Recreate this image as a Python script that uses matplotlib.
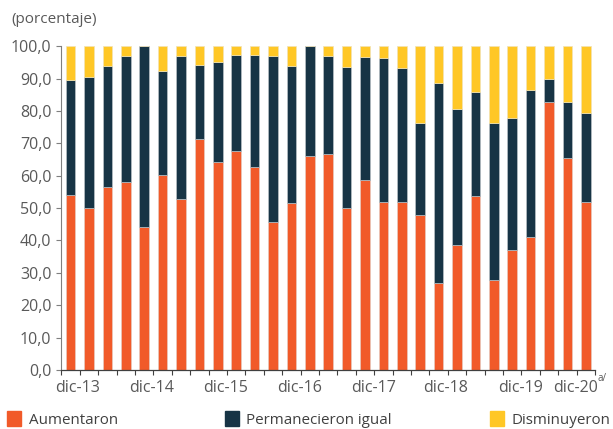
import matplotlib
matplotlib.use("Agg")
import matplotlib.pyplot as plt
from matplotlib.patches import Rectangle
import numpy as np

# quarterly periods, dic-13 .. dic-20
periods = ["dic-13", "mar-14", "jun-14", "sep-14", "dic-14", "mar-15", "jun-15", "sep-15",
           "dic-15", "mar-16", "jun-16", "sep-16", "dic-16", "mar-17", "jun-17", "sep-17",
           "dic-17", "mar-18", "jun-18", "sep-18", "dic-18", "mar-19", "jun-19", "sep-19",
           "dic-19", "mar-20", "jun-20", "sep-20", "dic-20"]

aumentaron = [54.1, 50.0, 56.5, 57.9, 44.1, 60.3, 52.9, 71.4, 64.3, 67.7, 62.8, 45.6, 51.7, 66.0,
              66.6, 50.1, 58.8, 52.0, 52.0, 47.8, 26.8, 38.5, 53.8, 27.8, 36.9, 41.0, 82.7, 65.5, 52.0]
permanecieron = [35.3, 40.5, 37.4, 38.9, 55.9, 31.9, 43.9, 22.9, 30.8, 29.5, 34.4, 51.2, 42.2, 34.0,
                 30.3, 43.5, 37.8, 44.2, 41.2, 28.5, 61.9, 42.2, 31.9, 48.5, 40.8, 45.4, 7.1, 17.2, 27.3]
disminuyeron = [10.6, 9.5, 6.1, 3.2, 0.0, 7.8, 3.2, 5.7, 4.9, 2.8, 2.8, 3.2, 6.1, 0.0,
                3.1, 6.4, 3.4, 3.8, 6.8, 23.7, 11.3, 19.3, 14.3, 23.7, 22.3, 13.6, 10.2, 17.3, 20.7]

series_names = ["Aumentaron", "Permanecieron igual", "Disminuyeron"]
colors = ["#F15A29", "#173445", "#FFC726"]

label_pos = [0.4, 4.4, 8.4, 12.45, 16.45, 20.4, 24.45, 27.45]
label_txt = ["dic-13", "dic-14", "dic-15", "dic-16", "dic-17", "dic-18", "dic-19", "dic-20"]

plt.rcParams['font.family'] = ['Open Sans', 'DejaVu Sans']
gray = "#595959"

fig = plt.figure(figsize=(6.13, 4.29), dpi=100)
ax = fig.add_axes([0.0987, 0.1375, 0.872, 0.755])

x = np.arange(len(periods))
a = np.array(aumentaron)
p = np.array(permanecieron)
d = np.array(disminuyeron)
bw = 0.52
ax.bar(x, a, bw, color=colors[0], edgecolor="#e6c9bf", linewidth=0.5)
ax.bar(x, p, bw, bottom=a, color=colors[1], edgecolor="#b8c0c6", linewidth=0.5)
ax.bar(x, d, bw, bottom=a + p, color=colors[2], edgecolor="#f2e3b5", linewidth=0.5)

ax.set_xlim(-0.55, 28.5)
ax.set_ylim(0, 100)
ax.set_yticks(np.arange(0, 101, 10))
ax.set_yticklabels([f"{v:.1f}".replace(".", ",") for v in np.arange(0, 101, 10)])

ax.set_xticks(label_pos)
ax.set_xticklabels(label_txt)
ax.set_xticks(np.arange(-0.5, 28.6, 1), minor=True)
ax.tick_params(axis="x", which="major", length=0, pad=7, labelsize=11.5, labelcolor=gray)
ax.tick_params(axis="x", which="minor", length=3.5, color="#404040", width=0.8)
ax.tick_params(axis="y", length=3.5, color="#7f7f7f", width=0.8, labelsize=11.5,
               labelcolor=gray, pad=3)

for s in ["top", "right"]:
    ax.spines[s].set_visible(False)
ax.spines["left"].set_color("#7f7f7f")
ax.spines["bottom"].set_color("#404040")
ax.spines["left"].set_linewidth(0.8)
ax.spines["bottom"].set_linewidth(0.9)

# superscript note on last label
fig.text(0.974, 0.112, "a/", fontsize=7, color=gray)

fig.text(0.018, 0.955, "(porcentaje)", fontsize=11, color=gray, va="center")

# legend
leg_x = [0.012, 0.367, 0.799]
for lx, name, c in zip(leg_x, series_names, colors):
    fig.patches.append(Rectangle((lx, 0.008), 0.023, 0.034, transform=fig.transFigure,
                                 color=c, figure=fig))
    fig.text(lx + 0.035, 0.02, name, fontsize=10.9, color="#404040", va="center")

fig.savefig("out.png", dpi=100)
